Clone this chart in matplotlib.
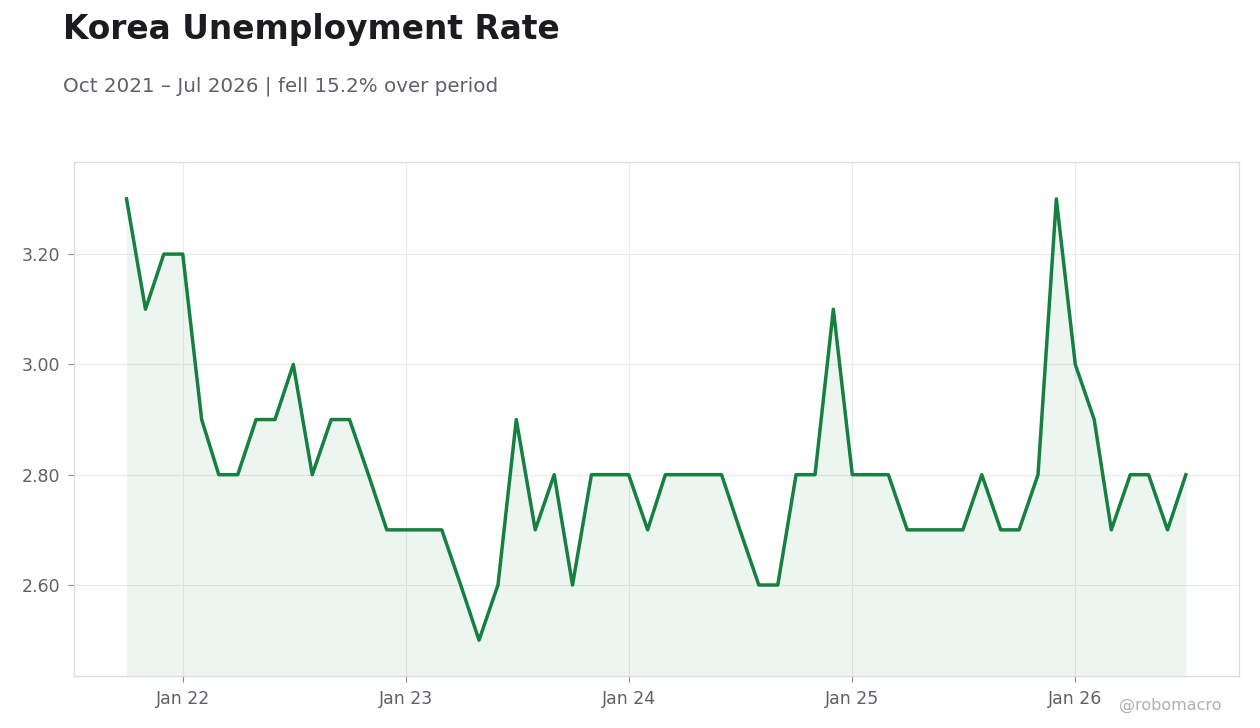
import matplotlib
matplotlib.use("Agg")
from matplotlib import pyplot as plt
import matplotlib.dates as mdates
import numpy as np
import pandas as pd

# Monthly unemployment rate, Oct 2021 - Jul 2026
dates = pd.date_range("2021-10-01", "2026-07-01", freq="MS")
rate = [
  3.3, 3.1, 3.2,                                          # 2021 Oct-Dec
  3.2, 2.9, 2.8, 2.8, 2.9, 2.9, 3.0, 2.8, 2.9, 2.9, 2.8, 2.7,  # 2022
  2.7, 2.7, 2.7, 2.6, 2.5, 2.6, 2.9, 2.7, 2.8, 2.6, 2.8, 2.8,  # 2023
  2.8, 2.7, 2.8, 2.8, 2.8, 2.8, 2.7, 2.6, 2.6, 2.8, 2.8, 3.1,  # 2024
  2.8, 2.8, 2.8, 2.7, 2.7, 2.7, 2.7, 2.8, 2.7, 2.7, 2.8, 3.3,  # 2025
  3.0, 2.9, 2.7, 2.8, 2.8, 2.7, 2.8,                     # 2026 Jan-Jul
]
title = "Korea Unemployment Rate"
subtitle = "Oct 2021 \u2013 Jul 2026 | fell 15.2% over period"

line_color = "#168040"
grey = "#5f6068"

fig = plt.figure(figsize=(12.6, 7.28), dpi=100)
ax = fig.add_axes([74 / 1260, 1 - 676 / 728, (1239 - 74) / 1260, (676 - 162) / 728])

y_lo, y_hi = 2.435, 3.367
ax.plot(dates, rate, color=line_color, linewidth=2.5, zorder=3)
ax.fill_between(dates, rate, y_lo, color=line_color, alpha=0.08, linewidth=0, zorder=2)

ax.set_ylim(y_lo, y_hi)
ax.set_xlim(dates[0] - pd.Timedelta(days=86), dates[-1] + pd.Timedelta(days=87))
ax.set_yticks([2.6, 2.8, 3.0, 3.2])
ax.yaxis.set_major_formatter(plt.FormatStrFormatter("%.2f"))
ax.xaxis.set_major_locator(mdates.YearLocator(month=1, day=1))
ax.xaxis.set_major_formatter(mdates.DateFormatter("Jan %y"))

ax.grid(True, color="#ebebeb", linewidth=0.8, zorder=0)
for s in ax.spines.values():
  s.set_color("#dddddd")
  s.set_linewidth(1.0)
ax.tick_params(colors=grey, labelsize=12.5, length=4, width=0.8, pad=6)
ax.tick_params(axis="both", color="#888888")

fig.text(63 / 1260, 1 - 30 / 728, title, fontsize=23.7, fontweight="bold",
         color="#1b1b20", va="center", ha="left")
fig.text(63 / 1260, 1 - 86 / 728, subtitle, fontsize=14.3, color=grey,
         va="center", ha="left")
fig.text(1222 / 1260, 1 - 705 / 728, "@robomacro", fontsize=11.5,
         color="#b0b0b0", va="center", ha="right")

fig.savefig("out.png", dpi=100)
